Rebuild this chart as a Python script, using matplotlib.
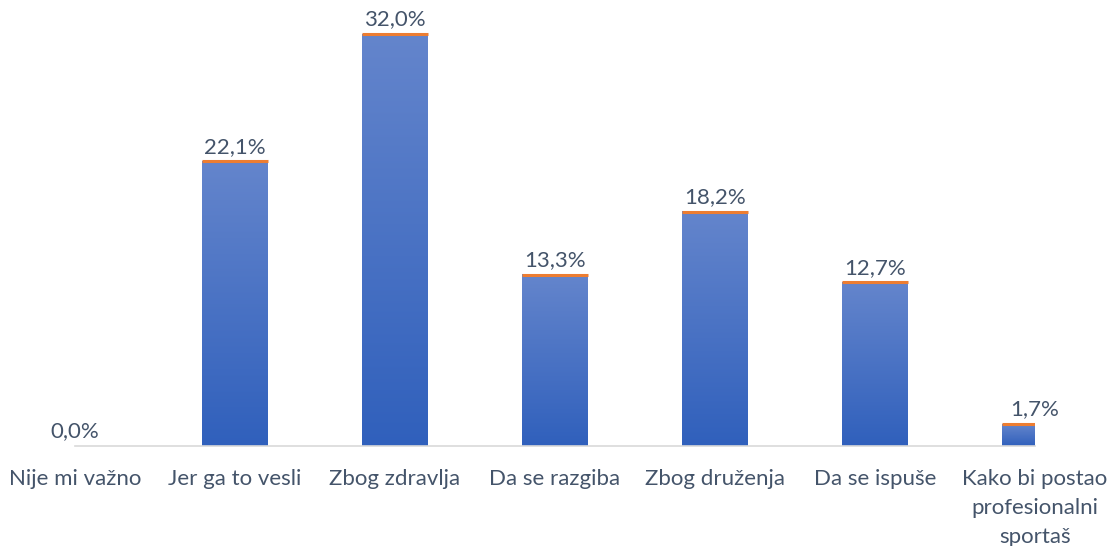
import numpy as np
import matplotlib.pyplot as plt
from matplotlib.colors import LinearSegmentedColormap

# data
categories = ["Nije mi važno", "Jer ga to vesli", "Zbog zdravlja", "Da se razgiba",
              "Zbog druženja", "Da se ispuše", "Kako bi postao\nprofesionalni\nsportaš"]
values = [0.0, 22.1, 32.0, 13.3, 18.2, 12.7, 1.7]
value_labels = ["0,0%", "22,1%", "32,0%", "13,3%", "18,2%", "12,7%", "1,7%"]

TEXT = "#44546A"
FS = 16
plt.rcParams["font.family"] = ["Lato", "DejaVu Sans"]

fig = plt.figure(figsize=(11.08, 5.46), dpi=100)
ax = fig.add_axes([75 / 1108, 100 / 546, 960 / 1108, 437.75 / 546])

x = np.arange(len(categories))
width = 0.41
cmap = LinearSegmentedColormap.from_list("grad", ["#3060BC", "#6485CC"])
grad = np.linspace(0, 1, 256).reshape(-1, 1)

bars = ax.bar(x, values, width=width, color="none", edgecolor="none")
for b, v in zip(bars, values):
    if v <= 0:
        continue
    x0 = b.get_x()
    ax.imshow(grad, cmap=cmap, origin="lower", aspect="auto",
              extent=[x0, x0 + width, 0, v], zorder=2)
    # thin orange cap on top of each bar
    ax.plot([x0, x0 + width], [v, v], color="#ED7D31", lw=2.2,
            solid_capstyle="butt", zorder=3)

for xi, v, lab in zip(x, values, value_labels):
    ax.annotate(lab, (xi, v), xytext=(0, 3.5), textcoords="offset points",
                ha="center", va="bottom", fontsize=FS, color=TEXT,
                annotation_clip=False)

ax.set_xlim(0, len(categories) - 1)
ax.set_ylim(0, 34)
ax.set_xticks(x)
ax.set_xticklabels(categories, fontsize=FS, color=TEXT, linespacing=1.58)
ax.tick_params(axis="x", length=0, pad=16.5)
ax.set_yticks([])
for s in ["top", "right", "left"]:
    ax.spines[s].set_visible(False)
ax.spines["bottom"].set_color("#D9D9D9")
ax.spines["bottom"].set_linewidth(1.2)

fig.savefig("out.png", dpi=100)
